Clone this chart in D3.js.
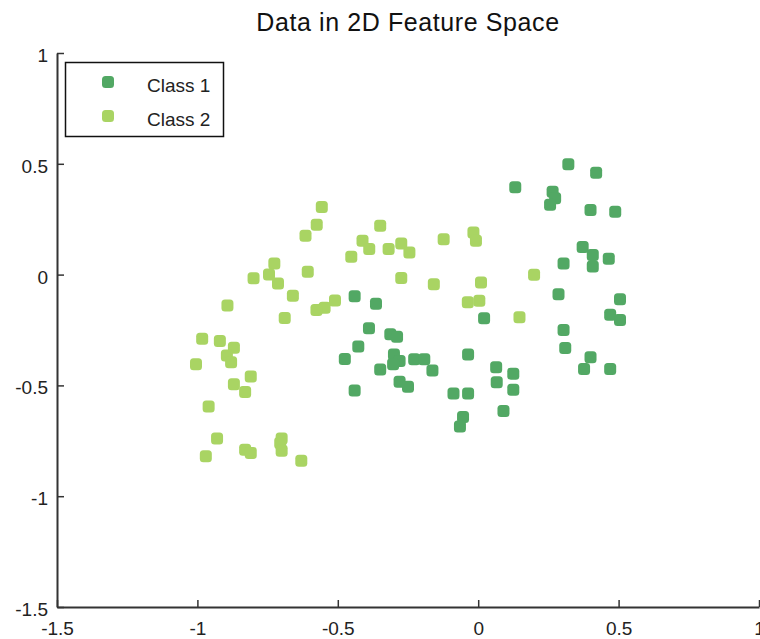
<!DOCTYPE html>
<html>
<head>
<meta charset="utf-8">
<script src="https://cdn.jsdelivr.net/npm/d3@7"></script>
<style>
  html, body { margin: 0; padding: 0; background: #fff; }
  svg { display: block; font-family: "Liberation Sans", Arial, Helvetica, sans-serif; }
</style>
</head>
<body>
<svg id="chart" width="760" height="639"></svg>
<script>
// Class 1 samples: [feature 1, feature 2]
const class1 = [
  [-0.44, -0.098], [-0.364, -0.132], [-0.389, -0.242], [-0.313, -0.269], [-0.289, -0.28],
  [-0.427, -0.324], [-0.475, -0.381], [-0.30, -0.36], [-0.28, -0.39], [-0.303, -0.405],
  [-0.349, -0.428], [-0.228, -0.382], [-0.192, -0.382], [-0.163, -0.433], [-0.28, -0.483],
  [-0.25, -0.506], [-0.44, -0.523], [-0.088, -0.536], [-0.036, -0.536], [-0.036, -0.361],
  [0.021, -0.197], [0.064, -0.418], [0.066, -0.486], [-0.054, -0.643], [-0.065, -0.685],
  [0.09, -0.615], [0.125, -0.447], [0.125, -0.52],
  [0.321, 0.498], [0.42, 0.46], [0.132, 0.394], [0.265, 0.374], [0.274, 0.344],
  [0.256, 0.315], [0.40, 0.292], [0.488, 0.284], [0.372, 0.124], [0.408, 0.089],
  [0.408, 0.036], [0.465, 0.072], [0.304, 0.05], [0.286, -0.089], [0.505, -0.111],
  [0.47, -0.181], [0.505, -0.205], [0.304, -0.25], [0.31, -0.331], [0.40, -0.373],
  [0.377, -0.426], [0.47, -0.426]
];

// Class 2 samples: [feature 1, feature 2]
const class2 = [
  [-0.557, 0.305], [-0.575, 0.225], [-0.615, 0.175], [-0.349, 0.22], [-0.412, 0.153],
  [-0.388, 0.116], [-0.319, 0.116], [-0.274, 0.14], [-0.245, 0.10], [-0.452, 0.08],
  [-0.607, 0.013], [-0.274, -0.015], [-0.123, 0.16], [-0.017, 0.19], [-0.008, 0.153],
  [-0.158, -0.044], [0.01, -0.036], [-0.037, -0.125], [0.004, -0.118], [0.199, -0.001],
  [0.147, -0.193], [-0.51, -0.117], [-0.547, -0.15], [-0.576, -0.16], [-0.66, -0.096],
  [-0.726, 0.05], [-0.745, 0.0], [-0.713, -0.04], [-0.80, -0.017], [-0.689, -0.196],
  [-0.893, -0.14], [-0.983, -0.29], [-0.92, -0.30], [-0.87, -0.33], [-0.895, -0.365],
  [-0.88, -0.395], [-1.005, -0.405], [-0.81, -0.46], [-0.87, -0.495], [-0.83, -0.53],
  [-0.96, -0.595], [-0.93, -0.74], [-0.97, -0.82], [-0.83, -0.79], [-0.81, -0.805],
  [-0.70, -0.74], [-0.705, -0.76], [-0.70, -0.795], [-0.63, -0.84]
];

const seriesNames = ["Class 1", "Class 2"];
const seriesColors = ["#52a864", "#a9d463"];
const xTicks = [-1.5, -1, -0.5, 0, 0.5, 1];
const yTicks = [-1.5, -1, -0.5, 0, 0.5, 1];
const titleText = "Data in 2D Feature Space";

const svg = d3.select("#chart");
const margin = { left: 57, right: 1, top: 53, bottom: 32 };
const W = 760, H = 639;

const x = d3.scaleLinear().domain([-1.5, 1]).range([margin.left, W - margin.right]);
const y = d3.scaleLinear().domain([-1.5, 1]).range([H - margin.bottom, margin.top]);

// Title
svg.append("text")
  .attr("x", (x.range()[0] + x.range()[1]) / 2)
  .attr("y", 31)
  .attr("text-anchor", "middle")
  .attr("font-size", 25)
  .attr("letter-spacing", 0.6)
  .attr("fill", "#111")
  .text(titleText);

// Axes with inward ticks
const fmt = d => String(d);
const xAxis = svg.append("g")
  .attr("transform", `translate(0,${y(-1.5)})`)
  .call(d3.axisBottom(x).tickValues(xTicks).tickFormat(fmt)
    .tickSizeInner(-7).tickSizeOuter(0).tickPadding(15));
const yAxis = svg.append("g")
  .attr("transform", `translate(${x(-1.5)},0)`)
  .call(d3.axisLeft(y).tickValues(yTicks).tickFormat(fmt)
    .tickSizeInner(-7).tickSizeOuter(0).tickPadding(9));

[xAxis, yAxis].forEach(g => {
  g.select(".domain").attr("stroke", "#333").attr("stroke-width", 2);
  g.selectAll(".tick line").attr("stroke", "#333").attr("stroke-width", 1.5);
  g.selectAll(".tick text").attr("font-size", 19).attr("fill", "#222")
    .attr("font-family", "'Liberation Sans', Arial, sans-serif");
});
yAxis.selectAll(".tick text").attr("dy", "0.45em");

// Scatter markers: small rounded squares
const S = 12;
const plot = svg.append("g");
[class1, class2].forEach((pts, i) => {
  plot.selectAll(null)
    .data(pts)
    .join("rect")
    .attr("x", d => x(d[0]) - S / 2)
    .attr("y", d => y(d[1]) - S / 2)
    .attr("width", S)
    .attr("height", S)
    .attr("rx", 3.5)
    .attr("fill", seriesColors[i]);
});

// Legend
const lg = svg.append("g");
lg.append("rect")
  .attr("x", 65.5).attr("y", 62.5)
  .attr("width", 158).attr("height", 74)
  .attr("fill", "#fff").attr("stroke", "#111").attr("stroke-width", 1.5);
seriesNames.forEach((name, i) => {
  const cy = 82 + i * 34;
  lg.append("rect")
    .attr("x", 108 - S / 2).attr("y", cy - S / 2)
    .attr("width", S).attr("height", S).attr("rx", 3.5)
    .attr("fill", seriesColors[i]);
  lg.append("text")
    .attr("x", 147).attr("y", cy + 10)
    .attr("font-size", 19).attr("fill", "#222")
    .text(name);
});
</script>
</body>
</html>
